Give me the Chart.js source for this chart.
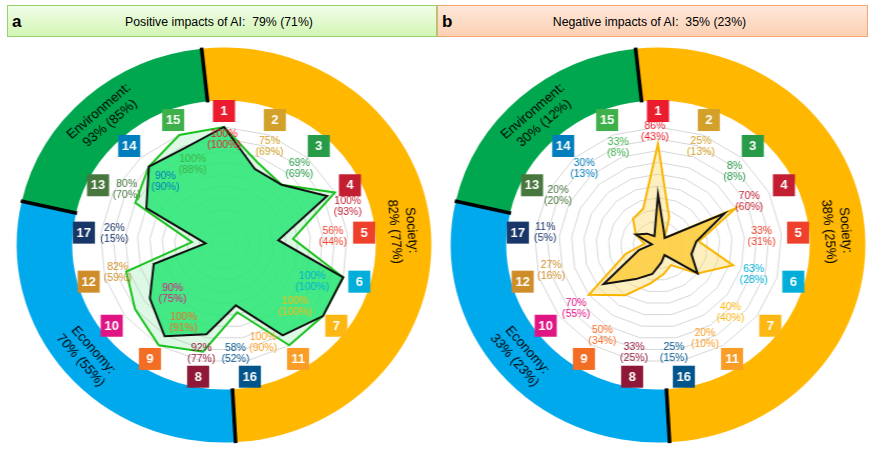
<!DOCTYPE html>
<html><head><meta charset="utf-8">
<script src="https://cdn.jsdelivr.net/npm/chart.js@4.4.1/dist/chart.umd.min.js"></script>
<style>
html,body{margin:0;padding:0;background:#fff;overflow:hidden;width:874px;height:451px;font-family:"Liberation Sans",Arial,sans-serif}
.hdr{position:absolute;top:5px;height:32px;box-sizing:border-box}
#hA{left:7px;width:430px;background:linear-gradient(#f1fde9,#d2f5b3);border:1px solid #93d46d}
#hB{left:437px;width:431px;background:linear-gradient(#fee8da,#fbd0b3);border:1px solid #f5a775}
.let{position:absolute;left:4px;top:6px;font-weight:bold;font-size:17px;color:#000}
.ttl{position:absolute;left:0;right:0;top:9px;text-align:center;font-size:12.3px;color:#000}
.panel{position:absolute;width:420px;height:410px;transform:scaleX(1.05);transform-origin:50% 50%}
.panel canvas{position:absolute;left:0;top:0}
</style></head><body>
<div class="hdr" id="hA"><span class="let">a</span><div class="ttl" style="margin-left:-6px">Positive impacts of AI:&nbsp; 79% (71%)</div></div>
<div class="hdr" id="hB"><span class="let">b</span><div class="ttl" style="margin-left:-6px">Negative impacts of AI:&nbsp; 35% (23%)</div></div>
<div class="panel" style="left:14px;top:40px"><canvas id="ringA" width="420" height="410"></canvas><canvas id="radarA" width="420" height="410"></canvas></div>
<div class="panel" style="left:448px;top:40px"><canvas id="ringB" width="420" height="410"></canvas><canvas id="radarB" width="420" height="410"></canvas></div>
<script>
// ---- data ----
const sdgAxes = ['1','2','3','4','5','6','7','11','16','8','9','10','12','17','13','14','15'];
const posAll = [100,75,69,100,56,100,100,100,58,92,100,90,82,26,80,90,100];
const posSub = [100,69,69,93,44,100,100,90,52,77,91,75,59,15,70,90,88];
const negAll = [86,25,8,70,33,63,40,20,25,33,50,70,27,11,20,30,33];
const negSub = [43,13,8,60,31,28,40,10,15,25,34,55,16,5,20,13,8];
const domains = ['Society','Economy','Environment'];
const domainSpan = [183,106,71];
const posDomainAll = [82,70,93];
const posDomainSub = [77,55,85];
const negDomainAll = [38,33,30];
const negDomainSub = [25,23,12];

// ---- styles / layout ----
const sdgColor = {'1':'#EB1C2D','2':'#D3A029','3':'#279B48','4':'#C31F33','5':'#EF402B','6':'#00AED9','7':'#FDB713','8':'#8F1838','9':'#F36D25','10':'#E11484','11':'#F99D26','12':'#CF8D2A','13':'#48773E','14':'#007DBC','15':'#3EB049','16':'#02558B','17':'#183668'};
const domainColors = ['#FFB700','#00A8EC','#00A74E'];
const posLabelR  = [105,107,105,124,104,92,92,105,109,111,87,69,105,105,108,84,86];
const posLabelDA = [0,2.7,0.8,8.4,0.6,8,5.4,11,4.8,0.6,-5.3,-7.6,0.7,1,4.4,0.7,0.8];
const negLabelR  = [113,106,103,97,99,96,97,104,109,110,105,101,105,108,107,104,104];
const negLabelDA = [-1.5,1.5,2.7,0,0.7,2.3,7.6,6.3,2.6,1.4,-1.4,-2.3,1.6,1.1,0.7,-0.1,-0.2];
const FONT = '"Liberation Sans", Arial, sans-serif';
Chart.defaults.font.family = FONT;

function ringChart(id, all, sub){
  const deco = {
    id:'ringDeco',
    afterDatasetsDraw(chart){
      const ctx = chart.ctx;
      const arcs = chart.getDatasetMeta(0).data;
      ctx.save();
      arcs.forEach(a=>{
        const p = a.getProps(['x','y','startAngle','innerRadius','outerRadius'], true);
        ctx.beginPath();
        ctx.moveTo(p.x+Math.cos(p.startAngle)*(p.innerRadius-1), p.y+Math.sin(p.startAngle)*(p.innerRadius-1));
        ctx.lineTo(p.x+Math.cos(p.startAngle)*(p.outerRadius+1), p.y+Math.sin(p.startAngle)*(p.outerRadius+1));
        ctx.strokeStyle='#000'; ctx.lineWidth=3.5; ctx.stroke();
      });
      arcs.forEach((a,i)=>{
        const p = a.getProps(['x','y','startAngle','endAngle','innerRadius','outerRadius'], true);
        const mid=(p.startAngle+p.endAngle)/2, rm=(p.innerRadius+p.outerRadius)/2;
        let th = mid + Math.PI/2;
        th = (((th + Math.PI/2) % (2*Math.PI)) + 2*Math.PI) % (2*Math.PI) - Math.PI/2;
        if (th > Math.PI/2) th -= Math.PI;
        ctx.save();
        ctx.translate(p.x+Math.cos(mid)*rm, p.y+Math.sin(mid)*rm);
        ctx.rotate(th);
        ctx.fillStyle='#000'; ctx.font='13px '+FONT; ctx.textAlign='center'; ctx.textBaseline='middle';
        ctx.fillText(domains[i]+':', 0, -8);
        ctx.fillText(all[i]+'% ('+sub[i]+'%)', 0, 8);
        ctx.restore();
      });
      ctx.restore();
    }
  };
  return new Chart(document.getElementById(id), {
    type:'doughnut',
    data:{labels:domains, datasets:[{data:domainSpan, backgroundColor:domainColors, borderWidth:0}]},
    options:{responsive:false, animation:false, rotation:-6.2, radius:197.5, cutout:150,
      plugins:{legend:{display:false}, tooltip:{enabled:false}}},
    plugins:[deco]
  });
}

function radarChart(id, all, sub, cfg){
  const deco = {
    id:'radarDeco',
    afterDatasetsDraw(chart){
      const ctx = chart.ctx, sc = chart.scales.r;
      ctx.save();
      ctx.textAlign='center'; ctx.textBaseline='middle';
      sdgAxes.forEach((s,i)=>{
        const ang = sc.getIndexAngle(i) + cfg.da[i]*Math.PI/180 - Math.PI/2;
        const x = sc.xCenter + Math.cos(ang)*cfg.r[i], y = sc.yCenter + Math.sin(ang)*cfg.r[i];
        ctx.fillStyle = sdgColor[s]; ctx.font='10px '+FONT;
        ctx.fillText(all[i]+'%', x, y-5.5);
        ctx.fillText('('+sub[i]+'%)', x, y+5.5);
        const b = sc.getPointPosition(i, 134);
        ctx.fillStyle = sdgColor[s];
        ctx.fillRect(b.x-10.5, b.y-11, 21, 22);
        ctx.fillStyle='#fff'; ctx.font='bold 12.5px '+FONT;
        ctx.fillText(s, b.x, b.y+0.5);
      });
      ctx.restore();
    }
  };
  return new Chart(document.getElementById(id), {
    type:'radar',
    data:{labels:sdgAxes, datasets:[
      {data:sub, borderColor:'#111', borderWidth:2, backgroundColor:cfg.innerFill, fill:true, pointRadius:0},
      {data:all, borderColor:cfg.outerLine, borderWidth:2, backgroundColor:cfg.outerFill, fill:true, pointRadius:0}
    ]},
    options:{responsive:false, animation:false,
      layout:{padding:{left:92,right:92,top:87,bottom:87}},
      elements:{line:{tension:0, borderJoinStyle:'miter'}},
      scales:{r:{min:0,max:100,ticks:{display:false,stepSize:10},
        grid:{color:'#d6d6d6',lineWidth:1}, angleLines:{display:false}, pointLabels:{display:false}}},
      plugins:{legend:{display:false}, tooltip:{enabled:false}}},
    plugins:[deco]
  });
}

ringChart('ringA', posDomainAll, posDomainSub);
ringChart('ringB', negDomainAll, negDomainSub);
radarChart('radarA', posAll, posSub, {r:posLabelR, da:posLabelDA, innerFill:'rgba(40,230,115,0.85)', outerFill:'rgba(100,225,130,0.22)', outerLine:'#19c21f'});
radarChart('radarB', negAll, negSub, {r:negLabelR, da:negLabelDA, innerFill:'rgba(251,205,60,0.85)', outerFill:'rgba(253,215,100,0.4)', outerLine:'#F7B500'});
</script>
</body></html>
